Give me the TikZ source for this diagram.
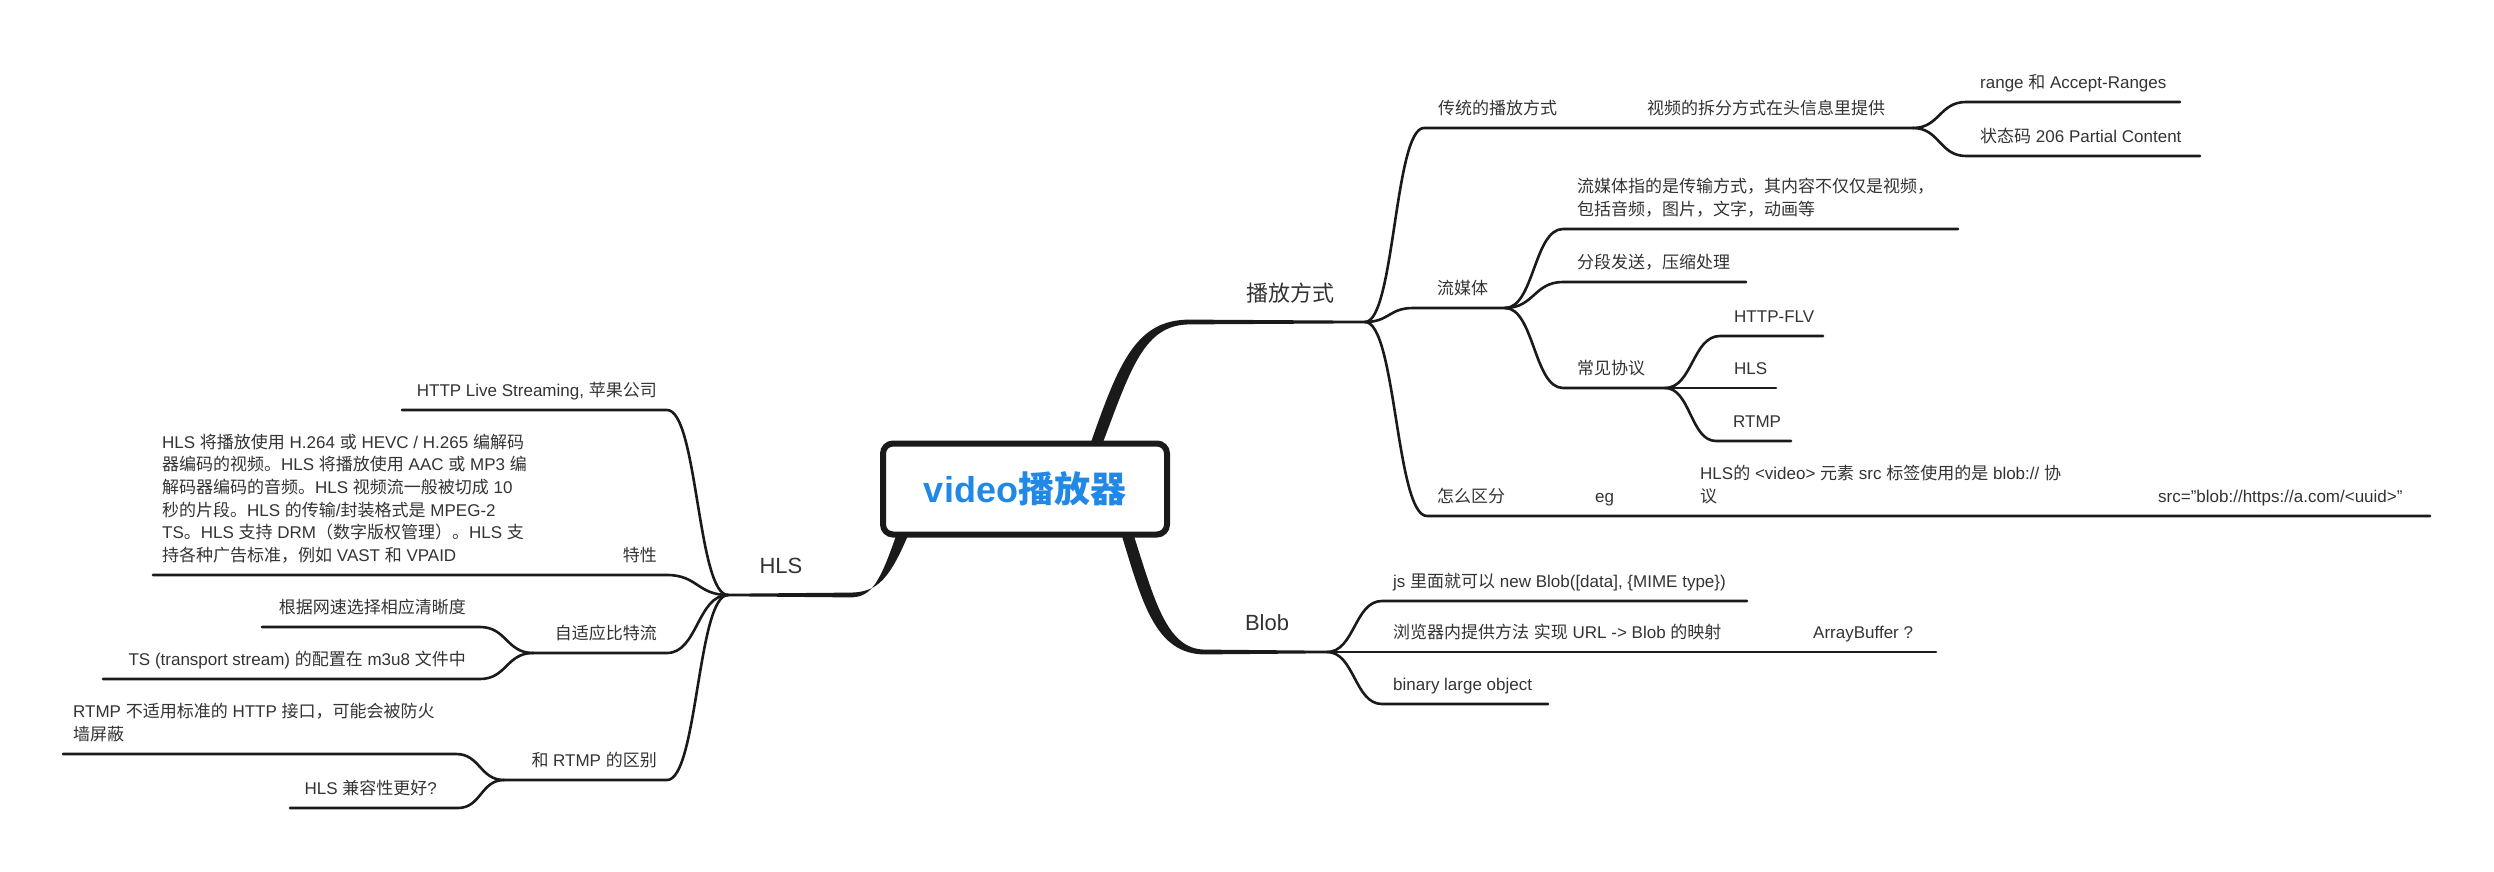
\documentclass[tikz,border=0pt]{standalone}
\usepackage{fontspec}
\usetikzlibrary{calc}
\setmainfont{Liberation Sans}
\newfontfamily\cjkfont{Noto Sans CJK SC}
\newfontfamily\latfont{Liberation Sans}
\XeTeXinterchartokenstate=1
\newXeTeXintercharclass\CJKcls
\newcount\tmpc
\tmpc="3000 \loop\XeTeXcharclass\tmpc=\CJKcls \advance\tmpc by 1 \ifnum\tmpc<"3040 \repeat
\tmpc="4E00 \loop\XeTeXcharclass\tmpc=\CJKcls \advance\tmpc by 1 \ifnum\tmpc<"A000 \repeat
\tmpc="FF00 \loop\XeTeXcharclass\tmpc=\CJKcls \advance\tmpc by 1 \ifnum\tmpc<"FFF0 \repeat
\XeTeXinterchartoks 0 \CJKcls = {\cjkfont}
\XeTeXinterchartoks 4095 \CJKcls = {\cjkfont}
\XeTeXinterchartoks \CJKcls 0 = {\latfont}
\XeTeXinterchartoks \CJKcls 4095 = {\latfont}
\definecolor{txt}{HTML}{333333}
\definecolor{ln}{HTML}{1A1A1A}
\definecolor{rootblue}{RGB}{33,137,229}
\newcommand\dpz{\vrule width 0pt height 0pt depth 4pt}
\begin{document}
\begin{tikzpicture}[x=1pt,y=-1pt,
  br/.style={draw=ln, line width=2.6pt, line cap=round},
  sc/.style={to path={let \p1=(\tikztostart), \p2=(\tikztotarget) in .. controls ({0.5*\x1+0.5*\x2},\y1) and ({0.5*\x1+0.5*\x2},\y2) .. (\tikztotarget)}},
  tp/.style={inner sep=0pt, text=txt, font=\fontsize{17}{22.6}\selectfont, align=left},
  tr/.style={tp, anchor=south west},
  tl/.style={tp, anchor=south east},
  mainlbl/.style={inner sep=0pt, text=txt, font=\fontsize{22}{26}\selectfont, anchor=base},
  rootbox/.style={draw=ln, line width=6pt, rounded corners=10pt, fill=white, minimum width=284pt, minimum height=91pt, inner sep=0pt, text=rootblue, font=\fontsize{36}{40}\selectfont\bfseries}
]
\useasboundingbox (0,0) rectangle (2494,872);
% junctions
\coordinate (J1) at (1365,322);
\coordinate (J2) at (1327,652);
\coordinate (J3) at (728,595);
% right: play modes
\coordinate (tr-s) at (1424,128); \coordinate (tr-e) at (1585,128);
\coordinate (sp-s) at (1632,128); \coordinate (sp-e) at (1913,128);
\coordinate (ra-s) at (1966,102); \coordinate (ra-e) at (2180,102);
\coordinate (st-s) at (1966,156); \coordinate (st-e) at (2200,156);
\coordinate (lm-s) at (1413,308); \coordinate (lm-e) at (1505,308);
\coordinate (lz-s) at (1563,229); \coordinate (lz-e) at (1958,229);
\coordinate (fd-s) at (1563,282); \coordinate (fd-e) at (1746,282);
\coordinate (cj-s) at (1563,388); \coordinate (cj-e) at (1665,388);
\coordinate (fl-s) at (1720,336); \coordinate (fl-e) at (1823,336);
\coordinate (hs-e) at (1776,388);
\coordinate (rt-s) at (1716,441); \coordinate (rt-e) at (1791,441);
\coordinate (zq-s) at (1427,516); \coordinate (zq-e) at (1518,516);
\coordinate (eg-s) at (1586,516); \coordinate (eg-e) at (1625,516);
\coordinate (hv-s) at (1689,516); \coordinate (hv-e) at (2083,516);
\coordinate (sr-s) at (2147,516); \coordinate (sr-e) at (2430,516);
% right: blob
\coordinate (js-s) at (1382,601); \coordinate (js-e) at (1747,601);
\coordinate (ll-e) at (1760,652); \coordinate (ab-s) at (1800,652); \coordinate (ab-e) at (1936,652);
\coordinate (bi-s) at (1382,704); \coordinate (bi-e) at (1548,704);
% left: HLS
\coordinate (ht-s) at (667,410); \coordinate (ht-e) at (402,410);
\coordinate (tx-s) at (667,575); \coordinate (tx-e) at (610,575);
\coordinate (lt-s) at (560,575); \coordinate (lt-e) at (153,575);
\coordinate (zs-s) at (667,653); \coordinate (zs-e) at (533,653);
\coordinate (gj-s) at (480,627); \coordinate (gj-e) at (262,627);
\coordinate (ts-s) at (480,679); \coordinate (ts-e) at (103,679);
\coordinate (hr-s) at (667,780); \coordinate (hr-e) at (504,780);
\coordinate (rn-s) at (456,754); \coordinate (rn-e) at (63,754);
\coordinate (hc-s) at (458,808); \coordinate (hc-e) at (290,808);
% main tapered branches
\fill[ln] (1090,445) .. controls (1119,362) and (1136,319.5) .. (1190,319.6) -- ($(J1)+(0,-1.3)$) -- ($(J1)+(0,1.3)$) -- (1190,324.4) .. controls (1144,324.4) and (1131,368) .. (1102,445) -- cycle;
\fill[ln] (1121,533) .. controls (1142,602) and (1155,654.5) .. (1205,654.4) -- ($(J2)+(0,1.3)$) -- ($(J2)+(0,-1.3)$) -- (1205,649.6) .. controls (1166,649.5) and (1154,598) .. (1133,533) -- cycle;
\fill[ln] (897,533) .. controls (880,582) and (872,597.4) .. (850,597.4) -- ($(J3)+(0,1.3)$) -- ($(J3)+(0,-1.3)$) -- (850,592.6) .. controls (878,592.6) and (890,578) .. (909,533) -- cycle;
% sub branches
\draw[br] (J1) to[sc] (tr-s) -- (tr-e) -- (sp-s) -- (sp-e);
\draw[br] (sp-e) to[sc] (ra-s) -- (ra-e);
\draw[br] (sp-e) to[sc] (st-s) -- (st-e);
\draw[br] (J1) to[sc] (lm-s) -- (lm-e);
\draw[br] (lm-e) to[sc] (lz-s) -- (lz-e);
\draw[br] (lm-e) to[sc] (fd-s) -- (fd-e);
\draw[br] (lm-e) to[sc] (cj-s) -- (cj-e);
\draw[br] (cj-e) to[sc] (fl-s) -- (fl-e);
\draw[br] (cj-e) -- (hs-e);
\draw[br] (cj-e) to[sc] (rt-s) -- (rt-e);
\draw[br] (J1) to[sc] (zq-s) -- (zq-e) -- (eg-s) -- (eg-e) -- (hv-s) -- (hv-e) -- (sr-s) -- (sr-e);
\draw[br] (J2) to[sc] (js-s) -- (js-e);
\draw[br] (J2) -- (ll-e) -- (ab-s) -- (ab-e);
\draw[br] (J2) to[sc] (bi-s) -- (bi-e);
\draw[br] (J3) to[sc] (ht-s) -- (ht-e);
\draw[br] (J3) to[sc] (tx-s) -- (tx-e) -- (lt-s) -- (lt-e);
\draw[br] (J3) to[sc] (zs-s) -- (zs-e);
\draw[br] (zs-e) to[sc] (gj-s) -- (gj-e);
\draw[br] (zs-e) to[sc] (ts-s) -- (ts-e);
\draw[br] (J3) to[sc] (hr-s) -- (hr-e);
\draw[br] (hr-e) to[sc] (rn-s) -- (rn-e);
\draw[br] (hr-e) to[sc] (hc-s) -- (hc-e);
% root
\node[rootbox] (root) at (1025,489) {video播放器};
% main labels
\node[mainlbl] (pb) at (1290,301) {播放方式};
\node[mainlbl] (bl) at (1267,630) {Blob};
\node[mainlbl] (hl) at (781,573) {HLS};
% right texts
\node[tr] (n-tr) at (1438,118.5) {传统的播放方式\dpz};
\node[tr] (n-sp) at (1647,118.5) {视频的拆分方式在头信息里提供\dpz};
\node[tr] (n-ra) at (1980,92.5) {range 和 Accept-Ranges\dpz};
\node[tr] (n-st) at (1980,146.5) {状态码 206 Partial Content\dpz};
\node[tr] (n-lm) at (1437,298.5) {流媒体\dpz};
\node[tr] (n-lz) at (1577,219.5) {流媒体指的是传输方式，其内容不仅仅是视频，\\包括音频，图片，文字，动画等\dpz};
\node[tr] (n-fd) at (1577,272.5) {分段发送，压缩处理\dpz};
\node[tr] (n-cj) at (1577,378.5) {常见协议\dpz};
\node[tr] (n-fl) at (1734,326.5) {HTTP-FLV\dpz};
\node[tr] (n-hs) at (1734,378.5) {HLS\dpz};
\node[tr] (n-rt) at (1733,431.5) {RTMP\dpz};
\node[tr] (n-zq) at (1437,506.5) {怎么区分\dpz};
\node[tr] (n-eg) at (1595,506.5) {eg\dpz};
\node[tr] (n-hv) at (1700,506.5) {HLS的 <video> 元素 src 标签使用的是 blob:// 协\\议\dpz};
\node[tr] (n-sr) at (2158,506.5) {src="blob://https://a.com/<uuid>"\dpz};
\node[tr] (n-js) at (1393,591.5) {js 里面就可以 new Blob([data], \{MIME type\})\dpz};
\node[tr] (n-ll) at (1393,642.5) {浏览器内提供方法 实现 URL -> Blob 的映射\dpz};
\node[tr] (n-ab) at (1813,642.5) {ArrayBuffer ?\dpz};
\node[tr] (n-bi) at (1393,694.5) {binary large object\dpz};
% left texts
\node[tl] (n-ht) at (657,400.5) {HTTP Live Streaming, 苹果公司\dpz};
\node[tl] (n-tx) at (657,565.5) {特性\dpz};
\node[tr] (n-lt) at (162,565.5) {HLS 将播放使用 H.264 或 HEVC / H.265 编解码\\器编码的视频。HLS 将播放使用 AAC 或 MP3 编\\解码器编码的音频。HLS 视频流一般被切成 10\\秒的片段。HLS 的传输/封装格式是 MPEG-2\\TS。HLS 支持 DRM（数字版权管理）。HLS 支\\持各种广告标准，例如 VAST 和 VPAID\dpz};
\node[tl] (n-zs) at (657,643.5) {自适应比特流\dpz};
\node[tl] (n-gj) at (466,617.5) {根据网速选择相应清晰度\dpz};
\node[tl] (n-ts) at (466,669.5) {TS (transport stream) 的配置在 m3u8 文件中\dpz};
\node[tl] (n-hr) at (657,770.5) {和 RTMP 的区别\dpz};
\node[tr] (n-rn) at (73,744.5) {RTMP 不适用标准的 HTTP 接口，可能会被防火\\墙屏蔽\dpz};
\node[tl] (n-hc) at (437,798.5) {HLS 兼容性更好?\dpz};
\end{tikzpicture}
\end{document}
